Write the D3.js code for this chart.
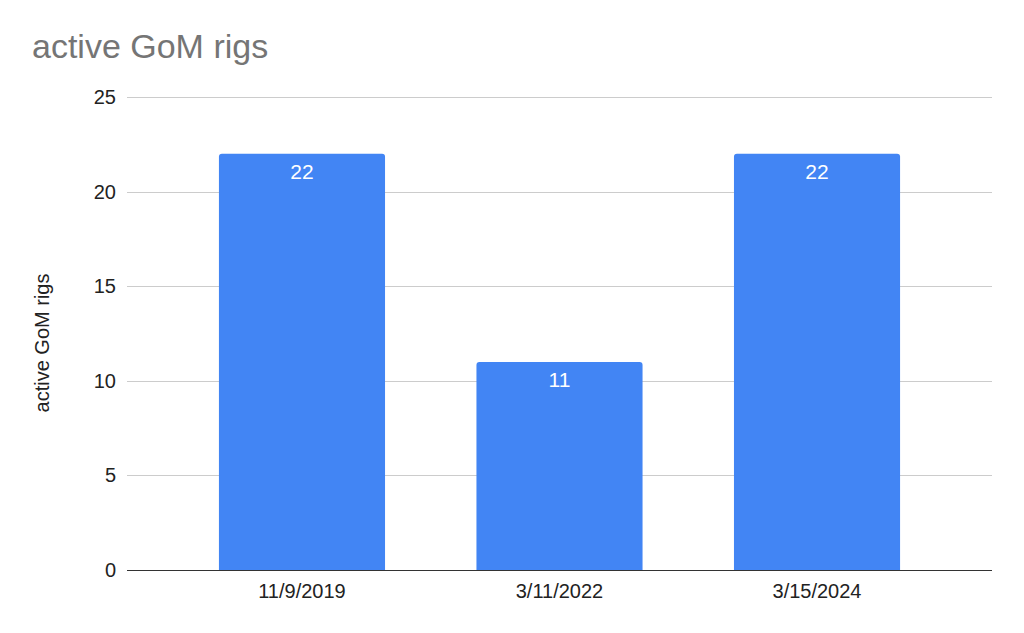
<!DOCTYPE html>
<html><head><meta charset="utf-8">
<script src="https://cdn.jsdelivr.net/npm/d3@7"></script>
<style>body{margin:0;background:#fff;}svg{display:block;font-family:"Liberation Sans",Arial,sans-serif;}</style>
</head><body><svg id="c" width="1024" height="633"></svg>
<script>
const categories = ["11/9/2019", "3/11/2022", "3/15/2024"];
const values = [22, 11, 22];
const yTicks = [0, 5, 10, 15, 20, 25];
const title = "active GoM rigs";
const yLabel = "active GoM rigs";

const svg = d3.select("#c");
const L = 127, R = 992, T = 97, B = 570;
const x = d3.scaleBand().domain(categories).range([L, R]).paddingInner(0.355).paddingOuter(0.357);
const y = d3.scaleLinear().domain([0, 25]).range([B, T]);

svg.append("rect").attr("width",1024).attr("height",633).attr("fill","#fff");
svg.append("text").attr("x",32).attr("y",58).attr("font-size",34).attr("fill","#757575").text(title);

const grid = svg.append("g");
grid.selectAll("line").data(yTicks.filter(d=>d>0)).join("line")
  .attr("x1",L).attr("x2",R).attr("y1",d=>Math.round(y(d))+0.5).attr("y2",d=>Math.round(y(d))+0.5)
  .attr("stroke","#cccccc").attr("stroke-width",1);

svg.append("g").selectAll("text").data(yTicks).join("text")
  .attr("x",116).attr("y",d=>y(d)).attr("dy","0.35em").attr("text-anchor","end")
  .attr("font-size",20).attr("fill","#222").text(d=>d);

const r = 3;
svg.append("g").selectAll("path").data(values).join("path")
  .attr("d",(d,i)=>{
    const x0 = x(categories[i]), w = x.bandwidth(), y0 = y(d), y1 = y(0);
    return `M${x0},${y1}V${y0+r}Q${x0},${y0} ${x0+r},${y0}H${x0+w-r}Q${x0+w},${y0} ${x0+w},${y0+r}V${y1}Z`;
  }).attr("fill","#4285f4");

svg.append("g").selectAll("text").data(values).join("text")
  .attr("x",(d,i)=>x(categories[i])+x.bandwidth()/2).attr("y",d=>y(d)+25)
  .attr("text-anchor","middle").attr("font-size",21).attr("fill","#fff").text(d=>d);

svg.append("line").attr("x1",L).attr("x2",R).attr("y1",B+0.5).attr("y2",B+0.5).attr("stroke","#333").attr("stroke-width",1);

svg.append("g").selectAll("text").data(categories).join("text")
  .attr("x",d=>x(d)+x.bandwidth()/2).attr("y",598).attr("text-anchor","middle")
  .attr("font-size",20).attr("fill","#222").text(d=>d);

svg.append("text").attr("transform","translate(49,343) rotate(-90)").attr("text-anchor","middle")
  .attr("font-size",20).attr("fill","#222").text(yLabel);
</script></body></html>
